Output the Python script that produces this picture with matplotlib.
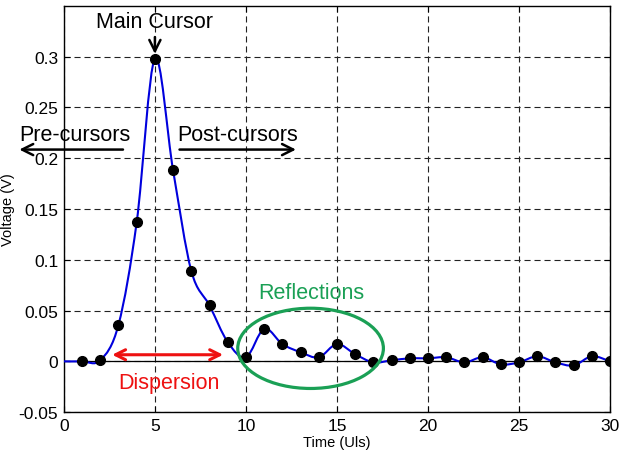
import numpy as np
import matplotlib
matplotlib.use("Agg")
import matplotlib.pyplot as plt
from matplotlib.path import Path
from matplotlib.patches import PathPatch, Ellipse

# sampled pulse response (one point per UI); t=0 only anchors the line
t = list(range(0, 31))
v = [0.0, 0.0, 0.001, 0.036, 0.137, 0.298, 0.188, 0.089, 0.055, 0.019, 0.004,
     0.032, 0.017, 0.009, 0.004, 0.017, 0.007, -0.001, 0.001, 0.003, 0.003,
     0.004, -0.001, 0.004, -0.003, -0.001, 0.005, -0.001, -0.004, 0.005, 0.0]
marker_from = 1

xticks = [0, 5, 10, 15, 20, 25, 30]
yticks = [-0.05, 0, 0.05, 0.1, 0.15, 0.2, 0.25, 0.3]
ytick_labels = ["-0.05", "0", "0.05", "0.1", "0.15", "0.2", "0.25", "0.3"]

plt.rcParams["font.family"] = ["Liberation Sans", "DejaVu Sans"]

fig = plt.figure(figsize=(6.2, 4.56), dpi=100)
ax = fig.add_axes([0.103, 0.094, 0.881, 0.891])

# smooth line through the samples (Catmull-Rom drawn as cubic Beziers)
P = np.column_stack([t, v]).astype(float)
n = len(P)
verts = [P[0]]
codes = [Path.MOVETO]
for i in range(n - 1):
    p0 = P[max(i - 1, 0)]
    p1 = P[i]
    p2 = P[i + 1]
    p3 = P[min(i + 2, n - 1)]
    verts += [p1 + (p2 - p0) / 6, p2 - (p3 - p1) / 6, p2]
    codes += [Path.CURVE4] * 3
ax.add_patch(PathPatch(Path(verts, codes), fill=False, edgecolor="#0000dd",
                       lw=1.5, zorder=3))

ax.axhline(0, color="black", lw=0.9, zorder=2)
ax.plot(t[marker_from:], v[marker_from:], "o", color="black", ms=7, zorder=4)

ax.set_xlim(0, 30)
ax.set_ylim(-0.05, 0.35)
ax.set_xticks(xticks)
ax.set_yticks(yticks)
ax.set_yticklabels(ytick_labels)
ax.tick_params(direction="in", length=4, labelsize=12.5, top=True, right=True,
               pad=4)
ax.grid(True, color="#222222", ls=(0, (5.5, 3.5)), lw=0.8)
for s in ax.spines.values():
    s.set_linewidth(1.0)

ax.set_xlabel("Time (Uls)", fontsize=10.5, labelpad=2)
ax.set_ylabel("Voltage (V)", fontsize=10.5, labelpad=3)

black_arrow = dict(arrowstyle="->", color="black", lw=1.8, mutation_scale=20)

ax.annotate("", xy=(5, 0.300), xytext=(5, 0.322), arrowprops=black_arrow)
ax.text(5, 0.335, "Main Cursor", ha="center", va="center", fontsize=15.5)

ax.annotate("", xy=(-2.6, 0.2085), xytext=(3.4, 0.2085), arrowprops=black_arrow,
            annotation_clip=False)
ax.text(0.6, 0.223, "Pre-cursors", ha="center", va="center", fontsize=15.5,
        clip_on=False)

ax.annotate("", xy=(12.9, 0.2085), xytext=(6.2, 0.2085), arrowprops=black_arrow)
ax.text(9.55, 0.223, "Post-cursors", ha="center", va="center", fontsize=15.5)

ax.annotate("", xy=(2.5, 0.0065), xytext=(8.9, 0.0065),
            arrowprops=dict(arrowstyle="<->", color="#ee1111", lw=2.2,
                            mutation_scale=18))
ax.text(5.75, -0.0205, "Dispersion", ha="center", va="center", fontsize=15.5,
        color="#ee1111")

ax.add_patch(Ellipse((13.55, 0.0128), 8.0, 0.079, fill=False,
                     edgecolor="#1aa055", lw=2.3, zorder=5))
ax.text(13.6, 0.068, "Reflections", ha="center", va="center", fontsize=15.5,
        color="#1aa055")

fig.savefig("out.png", dpi=100)
